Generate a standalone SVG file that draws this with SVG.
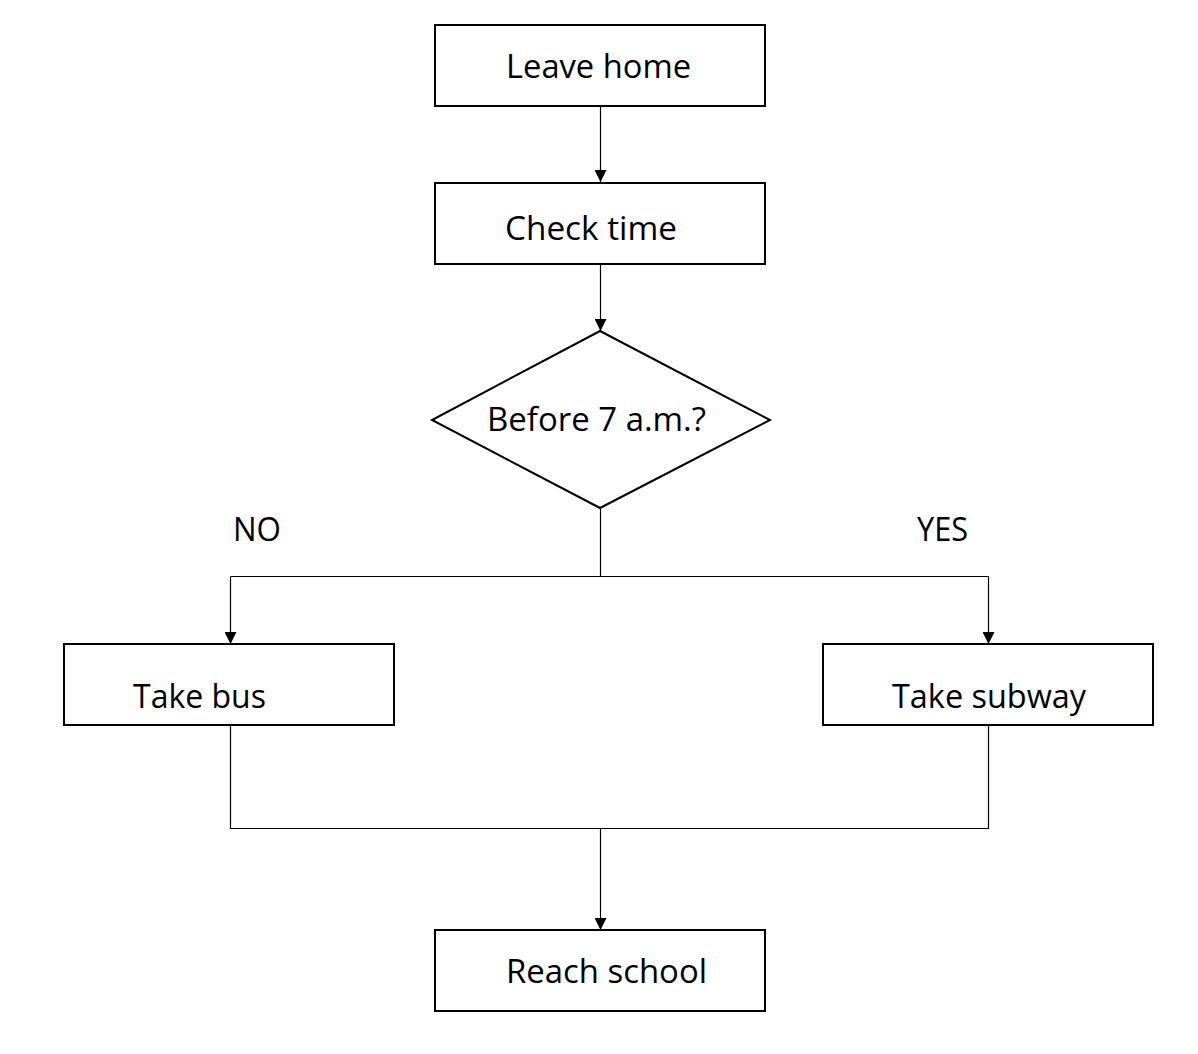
<svg xmlns="http://www.w3.org/2000/svg" width="1198" height="1054" viewBox="0 0 1198 1054">
<style>
.box{fill:#fff;stroke:#000;stroke-width:2}
.lbl{font-family:"Open Sans","Noto Sans",sans-serif;font-size:33px;fill:#000}
.con{fill:none;stroke:#000;stroke-width:1.2}
</style>
<defs>
<marker id="arr" markerUnits="userSpaceOnUse" markerWidth="12" markerHeight="12" viewBox="0 0 12 12" refX="12" refY="6" orient="auto">
<path d="M0,0 L12,6 L0,12 Z" fill="#000"/>
</marker>
</defs>
<rect width="1198" height="1054" fill="#fff"/>
<g id="connectors">
<path class="con" d="M600.5,106 V182" marker-end="url(#arr)"/>
<path class="con" d="M600.5,264 V331" marker-end="url(#arr)"/>
<path class="con" d="M600.5,508 V576.5"/>
<path class="con" d="M230.5,576.5 H988.5"/>
<path class="con" d="M230.5,576.5 V644" marker-end="url(#arr)"/>
<path class="con" d="M988.5,576.5 V644" marker-end="url(#arr)"/>
<path class="con" d="M230.5,726 V828.5 H988.5 V726"/>
<path class="con" d="M600.5,828.5 V930" marker-end="url(#arr)"/>
</g>
<g id="n-leave">
<rect class="box" x="435" y="25" width="330" height="81"/>
<text class="lbl" x="506" y="78" textLength="185" lengthAdjust="spacingAndGlyphs">Leave home</text>
</g>
<g id="n-check">
<rect class="box" x="435" y="183" width="330" height="81"/>
<text class="lbl" x="505" y="240" textLength="172" lengthAdjust="spacingAndGlyphs">Check time</text>
</g>
<g id="n-decision">
<polygon class="box" points="600,331 770,420 600,508 432,420"/>
<text class="lbl" x="487" y="431" textLength="219" lengthAdjust="spacingAndGlyphs">Before 7 a.m.?</text>
</g>
<g id="l-no">
<text class="lbl" x="233" y="541" textLength="48" lengthAdjust="spacingAndGlyphs">NO</text>
</g>
<g id="l-yes">
<text class="lbl" x="917" y="541" textLength="51" lengthAdjust="spacingAndGlyphs">YES</text>
</g>
<g id="n-bus">
<rect class="box" x="64" y="644" width="330" height="81"/>
<text class="lbl" x="133" y="708" textLength="133" lengthAdjust="spacingAndGlyphs">Take bus</text>
</g>
<g id="n-subway">
<rect class="box" x="823" y="644" width="330" height="81"/>
<text class="lbl" x="892" y="708" textLength="194" lengthAdjust="spacingAndGlyphs">Take subway</text>
</g>
<g id="n-school">
<rect class="box" x="435" y="930" width="330" height="81"/>
<text class="lbl" x="506" y="983" textLength="201" lengthAdjust="spacingAndGlyphs">Reach school</text>
</g>
</svg>
